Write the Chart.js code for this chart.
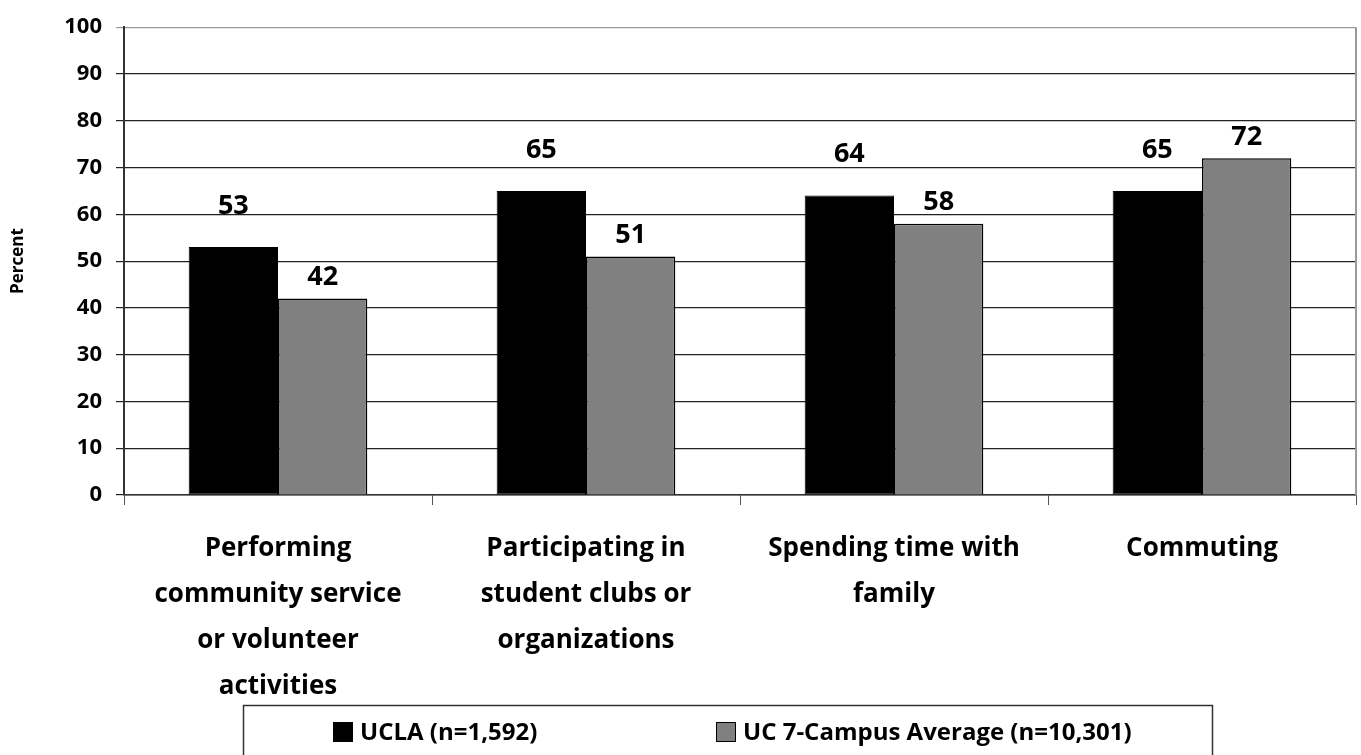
<!DOCTYPE html>
<html>
<head>
<meta charset="utf-8">
<script src="https://cdn.jsdelivr.net/npm/chart.js@4/dist/chart.umd.min.js"></script>
<style>
  html, body { margin: 0; padding: 0; background: #fff; }
  #wrap { width: 1361px; height: 755px; }
</style>
</head>
<body>
<div id="wrap"><canvas id="activityChart"></canvas></div>
<script>
const categories = [
    ["Performing", "community service", "or volunteer", "activities"],
    ["Participating in", "student clubs or", "organizations"],
    ["Spending time with", "family"],
    ["Commuting"]
];
const seriesNames = ["UCLA (n=1,592)", "UC 7-Campus Average (n=10,301)"];
const uclaValues = [53, 65, 64, 65];
const ucAverageValues = [42, 51, 58, 72];
const yTicks = [0, 10, 20, 30, 40, 50, 60, 70, 80, 90, 100];

const FONT = "'Open Sans', 'DejaVu Sans', sans-serif";

// value labels sit above each bar, the black ones a bit higher like the original
const labelLift = [41, 21];

const valueLabels = {
    id: 'valueLabels',
    afterDatasetsDraw(chart) {
        const c = chart.ctx;
        c.save();
        c.font = "bold 27px " + FONT;
        c.fillStyle = "#000";
        c.textAlign = "center";
        c.textBaseline = "middle";
        chart.data.datasets.forEach((ds, i) => {
            chart.getDatasetMeta(i).data.forEach((bar, j) => {
                c.fillText(ds.data[j], bar.x, bar.y - labelLift[i]);
            });
        });
        c.restore();
    }
};

const frameAndLegend = {
    id: 'frameAndLegend',
    beforeDatasetsDraw(chart) {
        const a = chart.chartArea;
        const c = chart.ctx;
        c.save();
        c.strokeStyle = "#9a9a9a";
        c.lineWidth = 2;
        c.beginPath();
        c.moveTo(a.right, a.top);
        c.lineTo(a.right, a.bottom);
        c.stroke();
        c.restore();
    },
    afterDraw(chart) {
        const c = chart.ctx;
        c.save();
        c.strokeStyle = "#333";
        c.lineWidth = 1.5;
        c.strokeRect(243.5, 705.5, 969, 60);
        c.font = "bold 24px " + FONT;
        c.textBaseline = "middle";
        const starts = [333, 716];
        chart.data.datasets.forEach((ds, i) => {
            const x = starts[i];
            c.fillStyle = ds.backgroundColor;
            c.fillRect(x, 722, 20, 20);
            c.strokeStyle = "#000";
            c.lineWidth = 1;
            c.strokeRect(x + 0.5, 722.5, 19, 19);
            c.fillStyle = "#000";
            c.fillText(ds.label, x + 27, 733);
        });
        c.restore();
    }
};

new Chart(document.getElementById('activityChart'), {
    type: 'bar',
    data: {
        labels: categories,
        datasets: [{
            label: seriesNames[0],
            data: uclaValues,
            backgroundColor: "#000000",
            borderColor: "#000000",
            borderWidth: 1,
            borderSkipped: false
        }, {
            label: seriesNames[1],
            data: ucAverageValues,
            backgroundColor: "#808080",
            borderColor: "#000000",
            borderWidth: 1.5,
            borderSkipped: 'bottom'
        }]
    },
    options: {
        responsive: true,
        maintainAspectRatio: false,
        animation: false,
        layout: {
            padding: { top: 24, right: 5, left: 0, bottom: 0 }
        },
        datasets: {
            bar: {
                categoryPercentage: 0.58,
                barPercentage: 1.0
            }
        },
        plugins: {
            legend: { display: false },
            tooltip: { enabled: false }
        },
        scales: {
            x: {
                afterFit(scale) { scale.height = 260; },
                grid: {
                    display: true,
                    offset: true,
                    drawOnChartArea: false,
                    tickLength: 10,
                    color: "#555"
                },
                border: { color: "#333", width: 1.5 },
                ticks: {
                    color: "#000",
                    padding: 21,
                    maxRotation: 0,
                    autoSkip: false,
                    font: { family: FONT, size: 26, weight: 'bold', lineHeight: 1.77 }
                }
            },
            y: {
                min: 0,
                max: 100,
                afterFit(scale) { scale.width = 124; },
                afterBuildTicks(scale) {
                    scale.ticks = yTicks.map(v => ({ value: v }));
                },
                grid: {
                    tickLength: 8,
                    lineWidth: 1.2,
                    color: ctx => (ctx.tick && ctx.tick.value === 100) ? "#9a9a9a" : "#222"
                },
                border: { color: "#333", width: 2 },
                ticks: {
                    color: "#000",
                    padding: 14,
                    font: { family: FONT, size: 22, weight: 'bold' }
                },
                title: {
                    display: true,
                    text: "Percent",
                    color: "#000",
                    padding: { top: 8, bottom: 0 },
                    font: { family: FONT, size: 17, weight: 'bold' }
                }
            }
        }
    },
    plugins: [valueLabels, frameAndLegend]
});
</script>
</body>
</html>
